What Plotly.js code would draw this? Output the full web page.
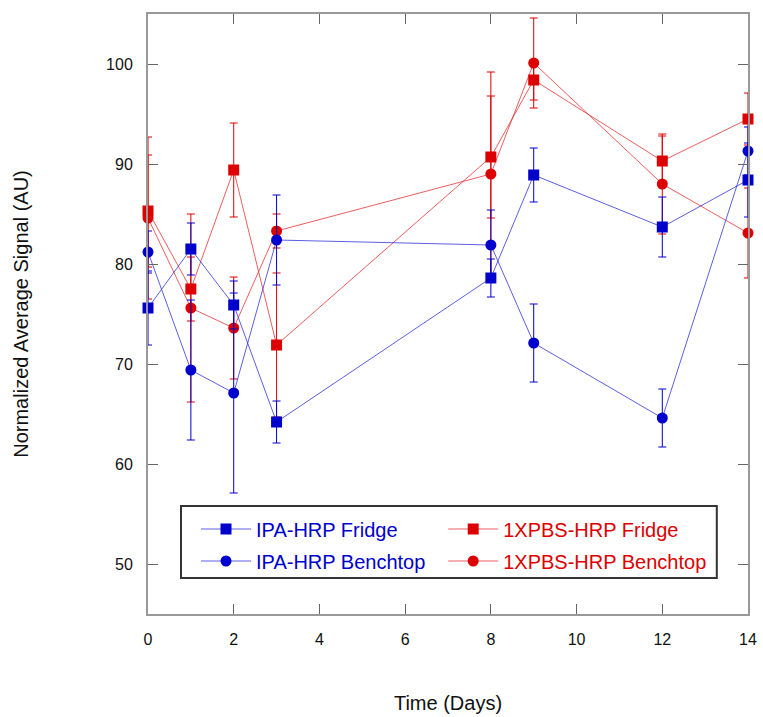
<!DOCTYPE html>
<html>
<head>
<meta charset="utf-8">
<script src="https://cdn.plot.ly/plotly-3.0.1.min.js"></script>
<style>html,body{margin:0;padding:0;background:#fff;}#chart{width:763px;height:717px;}</style>
</head>
<body>
<div id="chart"></div>
<script>
var days = [0, 1, 2, 3, 8, 9, 12, 14];

var ipaFridge      = [75.6, 81.5, 75.9, 64.2, 78.6, 88.9, 83.7, 88.4];
var ipaFridgeErr   = [3.7, 2.6, 2.4, 2.1, 1.9, 2.7, 3.0, 3.7];

var ipaBench       = [81.2, 69.4, 67.1, 82.4, 81.9, 72.1, 64.6, 91.3];
var ipaBenchErr    = [2.1, 7.0, 10.0, 4.5, 3.5, 3.9, 2.9, 2.4];

var pbsFridge      = [85.3, 77.5, 89.4, 71.9, 90.7, 98.4, 90.3, 94.5];
var pbsFridgeErr   = [5.6, 3.2, 4.7, 7.2, 6.1, 2.0, 2.5, 2.6];

var pbsBench       = [84.6, 75.6, 73.6, 83.3, 89.0, 100.1, 88.0, 83.1];
var pbsBenchErr    = [8.1, 9.4, 5.1, 1.7, 10.2, 4.5, 5.0, 4.5];

var names = ['IPA-HRP Fridge', 'IPA-HRP Benchtop', '1XPBS-HRP Fridge', '1XPBS-HRP Benchtop'];

var BLUE = '#0000cc', RED = '#dd0000';
var BLUE_LINE = 'rgba(40,40,220,0.75)', RED_LINE = 'rgba(230,40,40,0.75)';

function mk(y, err, name, color, lineColor, symbol, rank, legendId) {
  return {
    type: 'scatter', mode: 'lines+markers', x: days, y: y,
    name: '<span style="color:' + color + '">' + name + '</span>',
    legend: legendId,
    legendgroup: name,
    legendrank: rank,
    cliponaxis: false,
    line: {color: lineColor, width: 1},
    marker: {color: color, symbol: symbol, size: 11, line: {width: 0}},
    error_y: {type: 'data', array: err, visible: true, color: color, thickness: 1, width: 4}
  };
}

var data = [
  mk(pbsBench, pbsBenchErr, names[3], RED, RED_LINE, 'circle', 2, 'legend2'),
  mk(pbsFridge, pbsFridgeErr, names[2], RED, RED_LINE, 'square', 1, 'legend2'),
  mk(ipaBench, ipaBenchErr, names[1], BLUE, BLUE_LINE, 'circle', 2, 'legend'),
  mk(ipaFridge, ipaFridgeErr, names[0], BLUE, BLUE_LINE, 'square', 1, 'legend')
];

var legendCommon = {
  orientation: 'v', yanchor: 'middle', xanchor: 'left', y: 0.115,
  bgcolor: 'rgba(0,0,0,0)', borderwidth: 0,
  font: {size: 20}, traceorder: 'grouped', tracegroupgap: 3, itemwidth: 50
};

var layout = {
  width: 763, height: 717,
  margin: {l: 148, r: 15, t: 14, b: 103},
  paper_bgcolor: '#fff', plot_bgcolor: '#fff',
  font: {family: '"Liberation Sans", Arial, sans-serif', size: 16, color: '#111'},
  showlegend: true,
  legend: Object.assign({}, legendCommon, {x: 0.08}),
  legend2: Object.assign({}, legendCommon, {x: 0.492}),
  shapes: [{
    type: 'rect', xref: 'paper', yref: 'paper',
    x0: 0.055, x1: 0.948, y0: 0.06, y1: 0.18,
    line: {color: '#333', width: 2}, fillcolor: 'rgba(255,255,255,1)', layer: 'above'
  }],
  xaxis: {
    range: [0, 14], tickvals: [0, 2, 4, 6, 8, 10, 12, 14],
    showgrid: false, zeroline: false,
    showline: true, linecolor: '#999', linewidth: 2, mirror: 'ticks',
    ticks: 'inside', ticklen: 10, tickcolor: '#666', tickwidth: 1,
    ticklabelstandoff: 10,
    title: {text: 'Time (Days)', font: {size: 20, color: '#111'}, standoff: 49}
  },
  yaxis: {
    range: [45, 105], tickvals: [50, 60, 70, 80, 90, 100],
    showgrid: false, zeroline: false,
    showline: true, linecolor: '#999', linewidth: 2, mirror: 'ticks',
    ticks: 'inside', ticklen: 10, tickcolor: '#666', tickwidth: 1,
    ticklabelstandoff: 10,
    title: {text: 'Normalized Average Signal (AU)', font: {size: 20, color: '#111'}, standoff: 72}
  }
};

Plotly.newPlot('chart', data, layout, {displayModeBar: false, staticPlot: true});
</script>
</body>
</html>
